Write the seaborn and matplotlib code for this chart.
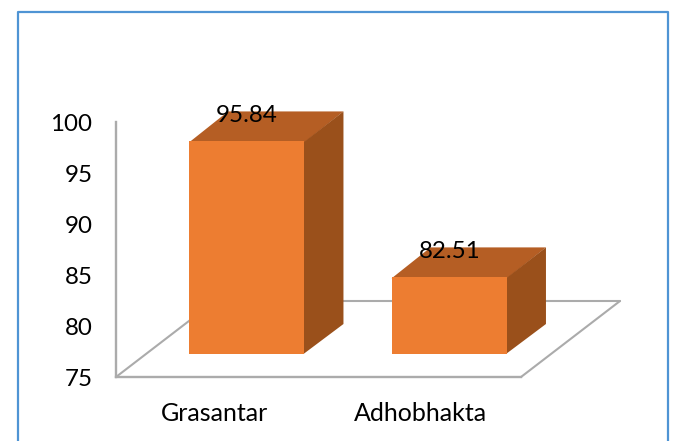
import matplotlib
matplotlib.use("Agg")
import matplotlib.pyplot as plt
import seaborn as sns
from matplotlib.patches import Polygon
from matplotlib.lines import Line2D
from matplotlib.transforms import Affine2D, IdentityTransform, ScaledTranslation

categories = ["Grasantar", "Adhobhakta"]
values = [95.84, 82.51]
y_ticks = [75, 80, 85, 90, 95, 100]

W, H = 673, 441
FRONT, TOP, SIDE = "#ED7D31", "#B55E24", "#9A501B"
GREY, BLUE = "#ABABAB", "#4F94D4"
DEPTH_X, DEPTH_Y = 39, 30

sns.set_theme(style="white")
plt.rcParams["font.family"] = ["Lato", "DejaVu Sans"]
fig = plt.figure(figsize=(W / 100, H / 100), dpi=100, facecolor="white")


def box(x0, y_top, x1, y_bot):
    return [x0 / W, 1 - y_bot / H, (x1 - x0) / W, (y_bot - y_top) / H]


px = Affine2D().scale(1 / W, -1 / H).translate(0, 1) + fig.transFigure

# Axis frame with tick labels
ax = fig.add_axes(box(116, 122, 521, 377), facecolor="none", zorder=1)
ax.set_xlim(-0.5, 1.5)
ax.set_ylim(75, 100)
ax.set_xticks(range(len(categories)), categories)
ax.set_yticks(y_ticks)
ax.tick_params(axis="y", length=0, pad=17, labelsize=17.4, labelcolor="black")
ax.tick_params(axis="x", length=0, pad=18, labelsize=18, labelcolor="black")
ax.spines[["top", "right"]].set_visible(False)
ax.spines[["left", "bottom"]].set_color(GREY)
ax.spines[["left", "bottom"]].set_linewidth(1.7)

# Small pixel nudges of the labels, to follow the spread in the picture
down = ScaledTranslation(0, -0.5 / 100, fig.dpi_scale_trans)
for lab in ax.get_yticklabels():
    lab.set_transform(lab.get_transform() + down)
for lab, dx in zip(ax.get_xticklabels(), (-2.5, 1.0)):
    lab.set_transform(lab.get_transform() + ScaledTranslation(dx / 100, 0, fig.dpi_scale_trans))

# Floor of the 3-D box
for xs, ys in [((116, 215), (377, 301)), ((215, 620), (301, 301)), ((620, 521), (301, 377))]:
    fig.add_artist(Line2D(xs, ys, color=GREY, lw=1.5, transform=px, zorder=0.5))

# Frame around the chart
fig.add_artist(Line2D((18, 18, 668, 668), (H, 12, 12, H), color=BLUE, lw=1.6, transform=px))

# Bars, shifted into the depth of the box
bar_ax = fig.add_axes(box(145.5, 99, 550.5, 354), facecolor="none", zorder=2)
sns.barplot(x=categories, y=values, color=FRONT, saturation=1, width=0.57, ax=bar_ax)
bar_ax.set_xlim(-0.5, 1.5)
bar_ax.set_ylim(75, 100)
bar_ax.axis("off")

for patch, value in zip(bar_ax.patches, values):
    patch.set_linewidth(0)
    patch.set_zorder(2)
    (x0, y0), (x1, y1) = bar_ax.transData.transform(
        [(patch.get_x(), 75), (patch.get_x() + patch.get_width(), value)]
    )
    # The faces run 1 px under the front face, so that no seam shows
    top_face = [(x0, y1 - 1), (x1, y1 - 1), (x1 + DEPTH_X, y1 + DEPTH_Y), (x0 + DEPTH_X, y1 + DEPTH_Y)]
    side_face = [(x1 - 1, y1 - 1), (x1 + DEPTH_X, y1 + DEPTH_Y), (x1 + DEPTH_X, y0 + DEPTH_Y), (x1 - 1, y0)]
    for pts, col in [(top_face, TOP), (side_face, SIDE)]:
        bar_ax.add_patch(Polygon(pts, closed=True, facecolor=col, edgecolor="none",
                                 transform=IdentityTransform(), clip_on=False, zorder=1))
    bar_ax.annotate(f"{value:.2f}", (patch.get_x() + patch.get_width() / 2, value),
                    xytext=(0, 18.5), textcoords="offset points", ha="center", va="center",
                    fontsize=17.4, color="black", zorder=5, annotation_clip=False)

fig.savefig("out.png", dpi=100, facecolor="white")
